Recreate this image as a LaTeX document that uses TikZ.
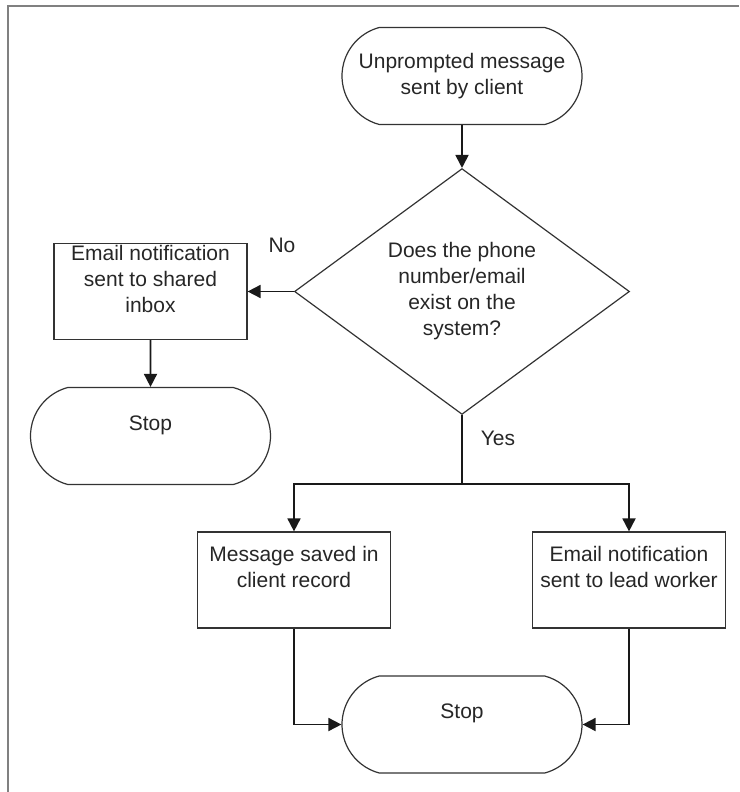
\documentclass[tikz,border=0pt]{standalone}
\usepackage{fontspec}
\setmainfont{Liberation Sans}
\usetikzlibrary{arrows.meta,shapes.geometric,shapes.misc}
\definecolor{framegray}{RGB}{128,128,128}
\definecolor{edge}{RGB}{51,51,51}

\begin{document}
\begin{tikzpicture}[x=1pt, y=-1pt, >={Triangle[length=13pt,width=13pt]},
    every node/.style={font=\fontsize{21}{26}\selectfont, text=black!85},
    terminal/.style={rounded rectangle, rounded rectangle arc length=150, draw=edge, line width=1.2pt,
        minimum width=240pt, minimum height=97pt, align=center, inner sep=0pt},
    process/.style={rectangle, draw=edge, line width=1.2pt,
        minimum width=193pt, minimum height=96pt, align=center, inner sep=0pt},
    decision/.style={diamond, draw=edge, line width=1.2pt,
        minimum width=335pt, minimum height=237pt, align=center, inner sep=0pt},
    flow/.style={->, line width=1.8pt, draw=black!90}]
    \useasboundingbox (0,0) rectangle (739,792);

    % Frame
    \draw[framegray, line width=2pt] (8,792) -- (8,6) -- (739,6);

    % Shapes
    \node[terminal] (start) at (462,76) {Unprompted message\\sent by client};
    \node[decision] (check) at (462,291.5) {Does the phone\\number/email\\exist on the\\system?};
    \node[process] (shared) at (150.5,291.5) {Email notification\\sent to shared\\inbox\\};
    \node[terminal] (stopA) at (150.5,436) {Stop\\};
    \node[process] (saved) at (294,580) {Message saved in\\client record\\};
    \node[process] (lead) at (629,580) {Email notification\\sent to lead worker\\};
    \node[terminal] (stopB) at (462,724.5) {Stop\\};

    % Branch labels
    \node (no) at (282,245) {No};
    \node (yes) at (498,438) {Yes};

    % Connectors
    \coordinate (fork) at (462,484);
    \draw[flow] (start) -- (check);
    \draw[flow] (check.west) -- (shared.east);
    \draw[flow] (shared) -- (stopA);
    \draw[line width=1.8pt, black!90] (check.south) -- (fork);
    \draw[flow] (fork) -| (saved.north);
    \draw[flow] (fork) -| (lead.north);
    \draw[flow] (saved.south) |- (stopB.west);
    \draw[flow] (lead.south) |- (stopB.east);
\end{tikzpicture}
\end{document}
